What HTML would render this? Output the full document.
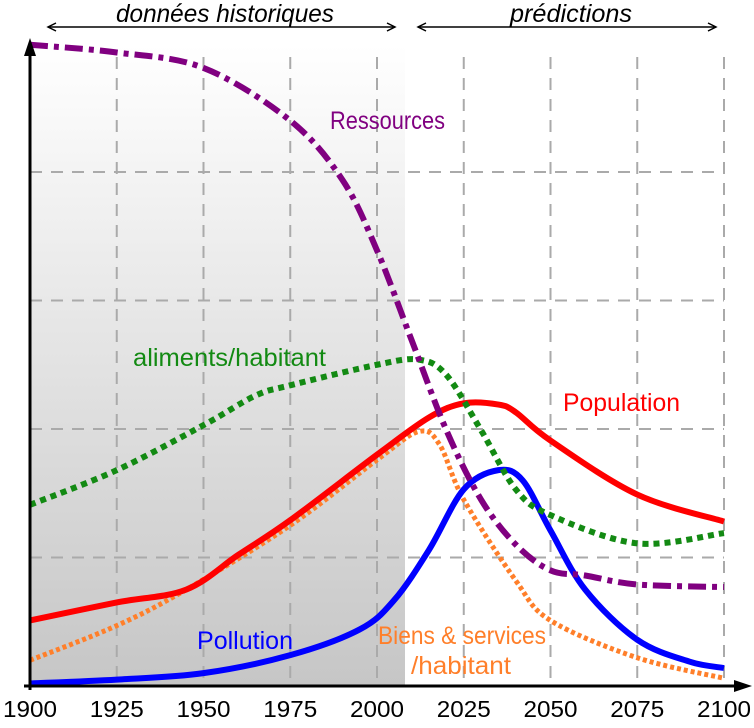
<!DOCTYPE html>
<html><head><meta charset="utf-8"><style>
body{margin:0;background:#fff;}
svg text{font-family:"Liberation Sans",sans-serif;}
</style></head><body>
<svg id="chart" width="754" height="723" xmlns="http://www.w3.org/2000/svg">
<defs><linearGradient id="shade" x1="0" y1="0" x2="0" y2="1"><stop offset="0" stop-color="#fff"/><stop offset="1" stop-color="#c6c6c6"/></linearGradient></defs>
<rect x="30" y="45" width="375" height="641" fill="url(#shade)"/>
<g id="grid"></g>
<g id="series"></g>
<g id="axes"></g>
</svg>
<script>
const years=[1900,1925,1950,1975,2000,2025,2050,2075,2100];
const resYears=[1900,1925,1950,1975,1990,2000,2010,2020,2030,2040,2050,2060,2075,2100];
const resVals=[4.99,4.93,4.81,4.40,3.94,3.39,2.69,1.99,1.45,1.10,0.90,0.86,0.79,0.77];
const foodYears=[1900,1925,1950,1965,1975,2000,2012,2020,2030,2040,2050,2075,2100];
const foodVals=[1.41,1.68,2.03,2.26,2.34,2.50,2.54,2.42,1.99,1.53,1.33,1.11,1.19];
const popYears=[1900,1925,1945,1960,1975,2000,2015,2025,2035,2040,2050,2075,2100];
const popVals=[0.51,0.65,0.75,1.02,1.29,1.80,2.09,2.20,2.19,2.13,1.91,1.49,1.28];
const polYears=[1900,1925,1950,1975,1995,2005,2015,2025,2035,2042,2050,2060,2075,2090,2100];
const polVals=[0.02,0.05,0.10,0.24,0.44,0.67,1.06,1.53,1.68,1.60,1.21,0.75,0.36,0.19,0.14];
const goodsYears=[1900,1925,1945,1975,2000,2012,2018,2025,2040,2050,2075,2100];
const goodsVals=[0.20,0.47,0.75,1.25,1.76,1.98,1.88,1.45,0.82,0.51,0.22,0.06];
const yGrid=[1,2,3,4];

const X=y=>30+(y-1900)*(694/200);
const Y=v=>686-v*128.5;
const NS="http://www.w3.org/2000/svg";
function mk(tag,attrs,parent){const e=document.createElementNS(NS,tag);for(const k in attrs)e.setAttribute(k,attrs[k]);parent.appendChild(e);return e;}
const grid=document.getElementById('grid'),series=document.getElementById('series'),axes=document.getElementById('axes');
years.slice(1).forEach(yr=>{
  const l=mk('line',{x1:X(yr),x2:X(yr),y1:57,y2:686,stroke:'#aaa','stroke-width':2,'stroke-dasharray':'12,9'},grid);
  
  
});
yGrid.forEach(v=>{
  const l=mk('line',{x1:30,x2:724,y1:Y(v),y2:Y(v),stroke:'#aaa','stroke-width':2,'stroke-dasharray':'12,9'},grid);
  
  
});
function pathD(xs,vs){
  const p=xs.map((x,i)=>[X(x),Y(vs[i])]);
  let d=`M${p[0][0]},${p[0][1]}`;
  for(let i=0;i<p.length-1;i++){
    const p0=p[i-1]||p[i],p1=p[i],p2=p[i+1],p3=p[i+2]||p2;
    const c1=[p1[0]+(p2[0]-p0[0])/6,p1[1]+(p2[1]-p0[1])/6];
    const c2=[p2[0]-(p3[0]-p1[0])/6,p2[1]-(p3[1]-p1[1])/6];
    d+=` C${c1[0]},${c1[1]} ${c2[0]},${c2[1]} ${p2[0]},${p2[1]}`;
  }
  return d;
}
function line(xs,vs,color,w,dash,name){
  const e=mk('path',{d:pathD(xs,vs),fill:'none',stroke:color,'stroke-width':w},series);
  if(dash)e.setAttribute('stroke-dasharray',dash);
  
  
}
line(goodsYears,goodsVals,'#ff7f2a',5,'4,3','goods-services-line');
line(polYears,polVals,'#0000ff',6,null,'pollution-line');
line(popYears,popVals,'#ff0000',6,null,'population-line');
line(foodYears,foodVals,'#138a13',6,'6,5','food-line');
line(resYears,resVals,'#800080',6,'18,6,5,6','resources-line');

function txt(s,x,y,attrs,name){
  const t=mk('text',Object.assign({x:x,y:y},attrs),axes);t.textContent=s;
  
  
  return t;
}
years.forEach(yr=>txt(String(yr),X(yr),717,{'text-anchor':'middle','font-size':23,'font-family':'Liberation Mono',textLength:54,lengthAdjust:'spacingAndGlyphs'},'x-tick-label'));
txt('Ressources',330,129,{fill:'#800080','font-size':25,textLength:115,lengthAdjust:'spacingAndGlyphs'},'resources-label');
txt('aliments/habitant',133,366,{fill:'#138a13','font-size':25,textLength:193,lengthAdjust:'spacingAndGlyphs'},'food-label');
txt('Population',563,411,{fill:'#ff0000','font-size':25,textLength:117,lengthAdjust:'spacingAndGlyphs'},'population-label');
txt('Pollution',197,649,{fill:'#0000ff','font-size':25,textLength:96,lengthAdjust:'spacingAndGlyphs'},'pollution-label');
txt('Biens & services',378,644,{fill:'#ff7f2a','font-size':25,textLength:168,lengthAdjust:'spacingAndGlyphs'},'goods-label-1');
txt('/habitant',411,674,{fill:'#ff7f2a','font-size':25,textLength:100,lengthAdjust:'spacingAndGlyphs'},'goods-label-2');
txt('données historiques',116,22,{'font-style':'italic','font-size':25,textLength:218,lengthAdjust:'spacingAndGlyphs'},'historical-header');
txt('prédictions',510,22,{'font-style':'italic','font-size':25,textLength:122,lengthAdjust:'spacingAndGlyphs'},'predictions-header');
mk('line',{x1:30,x2:30,y1:50,y2:690,stroke:'#000','stroke-width':3},axes);
mk('path',{d:'M30,38 L24,56 L36,56 Z',fill:'#000'},axes);
mk('line',{x1:24,x2:740,y1:686,y2:686,stroke:'#000','stroke-width':3},axes);
mk('path',{d:'M752,686 L734,680 L734,692 Z',fill:'#000'},axes);
function harrow(x1,x2,name){
  const g=mk('g',{stroke:'#000','stroke-width':1.5,fill:'none'},axes);
  
  
  mk('line',{x1:x1,x2:x2,y1:27,y2:27},g);
  mk('path',{d:`M${x1+8},23 L${x1},27 L${x1+8},31 M${x2-8},23 L${x2},27 L${x2-8},31`},g);
}
harrow(48,395,'historical-arrow');
harrow(418,716,'predictions-arrow');
</script>
</body></html>
